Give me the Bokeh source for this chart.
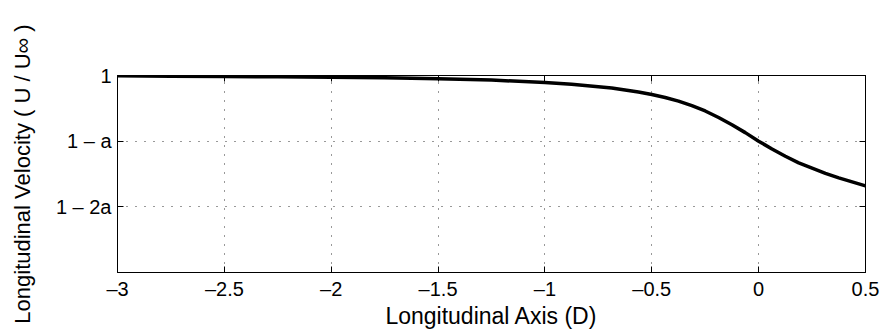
from bokeh.plotting import figure
from bokeh.models import (LinearAxis, FixedTicker, CustomJSTickFormatter, Range1d)
from bokeh.embed import file_html
from bokeh.resources import INLINE

# Longitudinal position (rotor diameters)
x_pos = [-3.0, -2.75, -2.5, -2.25, -2.0, -1.75, -1.5, -1.25, -1.0, -0.875,
         -0.75, -0.6875, -0.625, -0.5625, -0.5, -0.4375, -0.375, -0.3125, -0.25,
         -0.1875, -0.125, -0.0625, 0.0, 0.0625, 0.125, 0.1875, 0.25, 0.3125,
         0.375, 0.4375, 0.5]
# Velocity deficit, in units of the induction factor a
deficit_a = [0.005, 0.01, 0.015, 0.02, 0.025, 0.035, 0.05, 0.07, 0.105, 0.135,
             0.17, 0.19, 0.22, 0.25, 0.29, 0.335, 0.39, 0.46, 0.54,
             0.64, 0.75, 0.87, 1.0, 1.12, 1.23, 1.33, 1.41, 1.49,
             1.56, 1.62, 1.68]
x_ticks = [-3, -2.5, -2, -1.5, -1, -0.5, 0, 0.5]
y_ticks = [-2, -1, 0]
y_tick_labels = {-2: "1 \u2013 2a", -1: "1 \u2013 a", 0: "1"}
x_title = "Longitudinal Axis (D)"
y_title = "Longitudinal Velocity ( U / U\u221e )"

y_vals = [-d for d in deficit_a]

FONT = "Liberation Sans"

p = figure(width=881, height=331, output_backend="svg", toolbar_location=None,
           x_range=Range1d(-3, 0.5), y_range=Range1d(-3, 0),
           min_border_left=117, min_border_right=16, min_border_top=75,
           min_border_bottom=53, x_axis_location=None, y_axis_location=None)
p.background_fill_color = "white"
p.border_fill_color = "white"
p.outline_line_color = "black"
p.outline_line_width = 1

fmt = CustomJSTickFormatter(code="""
const s = Math.abs(tick).toString();
return tick < 0 ? '\\u2013' + s : s;
""")

def mk_axis(show_labels, ticks, formatter=None, overrides=None):
    ax = LinearAxis(ticker=FixedTicker(ticks=ticks))
    ax.major_tick_in = 6
    ax.major_tick_out = 0
    ax.minor_tick_in = 0
    ax.minor_tick_out = 0
    ax.axis_line_color = "black"
    ax.major_tick_line_color = "black"
    ax.major_label_text_font = FONT
    ax.major_label_text_font_size = "20px"
    ax.major_label_text_color = "black"
    if formatter is not None:
        ax.formatter = formatter
    if overrides is not None:
        ax.major_label_overrides = overrides
    if not show_labels:
        ax.major_label_text_color = None
        ax.major_label_text_font_size = "0px"
    return ax

xb = mk_axis(True, x_ticks, formatter=fmt)
xb.major_label_standoff = 5
xb.axis_label = x_title
xb.axis_label_text_font = FONT
xb.axis_label_text_font_size = "23px"
xb.axis_label_text_font_style = "normal"
xb.axis_label_text_color = "black"
xb.axis_label_standoff = 0
p.add_layout(xb, "below")
xt = mk_axis(False, x_ticks)
p.add_layout(xt, "above")

yl = mk_axis(True, y_ticks, overrides=y_tick_labels)
yl.major_label_standoff = 6
yl.axis_label = y_title
yl.axis_label_text_font = FONT
yl.axis_label_text_font_size = "22px"
yl.axis_label_text_font_style = "normal"
yl.axis_label_text_color = "black"
yl.axis_label_standoff = 18
p.add_layout(yl, "left")
yr = mk_axis(False, y_ticks)
p.add_layout(yr, "right")

p.xgrid.ticker = FixedTicker(ticks=x_ticks)
p.ygrid.ticker = FixedTicker(ticks=y_ticks)
for g in (p.xgrid, p.ygrid):
    g.grid_line_color = "black"
    g.grid_line_alpha = 0.8
    g.grid_line_dash = "1 8"
    g.grid_line_width = 1

p.line(x_pos, y_vals, line_color="black", line_width=3.5)

open("out.html", "w").write(file_html(p, INLINE))
